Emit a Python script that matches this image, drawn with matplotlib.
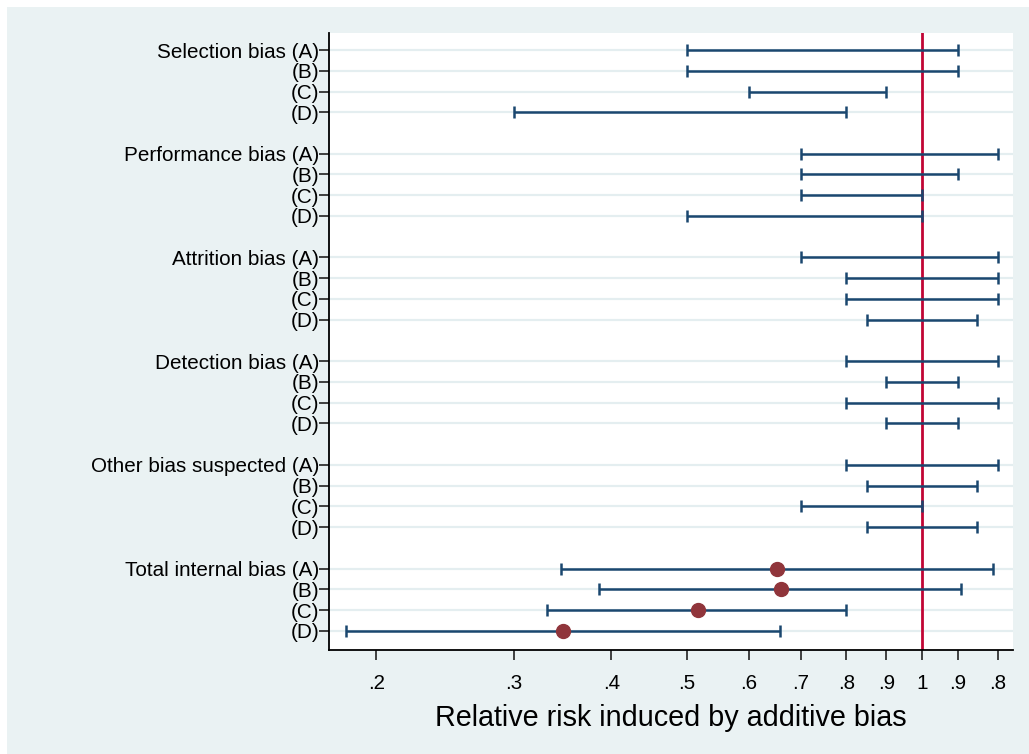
import numpy as np
import matplotlib
matplotlib.use("Agg")
import matplotlib.pyplot as plt
from matplotlib.patches import Rectangle

plt.rcParams['font.family'] = ['Liberation Sans', 'DejaVu Sans']

# row labels (top to bottom), None = blank spacer row
labels = ["Selection bias (A)", "(B)", "(C)", "(D)", None,
          "Performance bias (A)", "(B)", "(C)", "(D)", None,
          "Attrition bias (A)", "(B)", "(C)", "(D)", None,
          "Detection bias (A)", "(B)", "(C)", "(D)", None,
          "Other bias suspected (A)", "(B)", "(C)", "(D)", None,
          "Total internal bias (A)", "(B)", "(C)", "(D)"]

lower = [0.5, 0.5, 0.6, 0.3, None,
         0.7, 0.7, 0.7, 0.5, None,
         0.7, 0.8, 0.8, 0.85, None,
         0.8, 0.9, 0.8, 0.9, None,
         0.8, 0.85, 0.7, 0.85, None,
         0.345, 0.386, 0.331, 0.183]
upper = [1.111, 1.111, 0.9, 0.8, None,
         1.25, 1.111, 1.0, 1.0, None,
         1.25, 1.25, 1.25, 1.176, None,
         1.25, 1.111, 1.25, 1.111, None,
         1.25, 1.176, 1.0, 1.176, None,
         1.233, 1.122, 0.8, 0.657]
point = [None] * 25 + [0.653, 0.659, 0.516, 0.347]

xticks = [0.2, 0.3, 0.4, 0.5, 0.6, 0.7, 0.8, 0.9, 1.0, 1.111, 1.25]
xticklabels = [".2", ".3", ".4", ".5", ".6", ".7", ".8", ".9", "1", ".9", ".8"]

navy = "#1a476f"
maroon = "#90353b"
bg = "#eaf2f3"

fig = plt.figure(figsize=(10.29, 7.54), dpi=100)
fig.patch.set_facecolor("white")
fig.patches.append(Rectangle((7 / 1029, 0), 1, 1 - 7 / 754, transform=fig.transFigure,
                             facecolor=bg, edgecolor="none", zorder=-5))

ax = fig.add_axes([329 / 1029, 1 - 650 / 754, (1013 - 329) / 1029, (650 - 33) / 754])
ax.set_facecolor("white")
ax.set_xscale("log")

rows = [i for i, l in enumerate(labels) if l is not None]
for i in rows:
    ax.axhline(i, color="#e4eef0", lw=1.6, zorder=1)

ax.axvline(1.0, color="#c10534", lw=2, zorder=2)

for i in rows:
    ax.errorbar([lower[i]], [i], xerr=[[0], [upper[i] - lower[i]]],
                fmt="none", ecolor=navy, elinewidth=1.8, capsize=4, capthick=1.8, zorder=3)
    if point[i] is not None:
        ax.plot(point[i], i, "o", color=maroon, markersize=10, zorder=4)

ax.set_xlim(0.174, 1.308)
ax.set_ylim(28.92, -0.82)

ax.set_yticks(rows)
ax.set_yticklabels([labels[i] for i in rows], fontsize=14.9)
ax.set_xticks(xticks)
ax.set_xticklabels(xticklabels, fontsize=14.9)
ax.xaxis.set_minor_locator(matplotlib.ticker.NullLocator())
ax.tick_params(axis="y", length=7, width=1.2, pad=0, colors="#222222", labelcolor="black")
ax.tick_params(axis="x", length=7, width=1.2, pad=10, colors="#222222", labelcolor="black")

for s in ["top", "right"]:
    ax.spines[s].set_visible(False)
for s in ["left", "bottom"]:
    ax.spines[s].set_linewidth(1.3)

ax.set_xlabel("Relative risk induced by additive bias", fontsize=20.7, labelpad=8)

fig.savefig("out.png", dpi=100, facecolor=fig.get_facecolor())
